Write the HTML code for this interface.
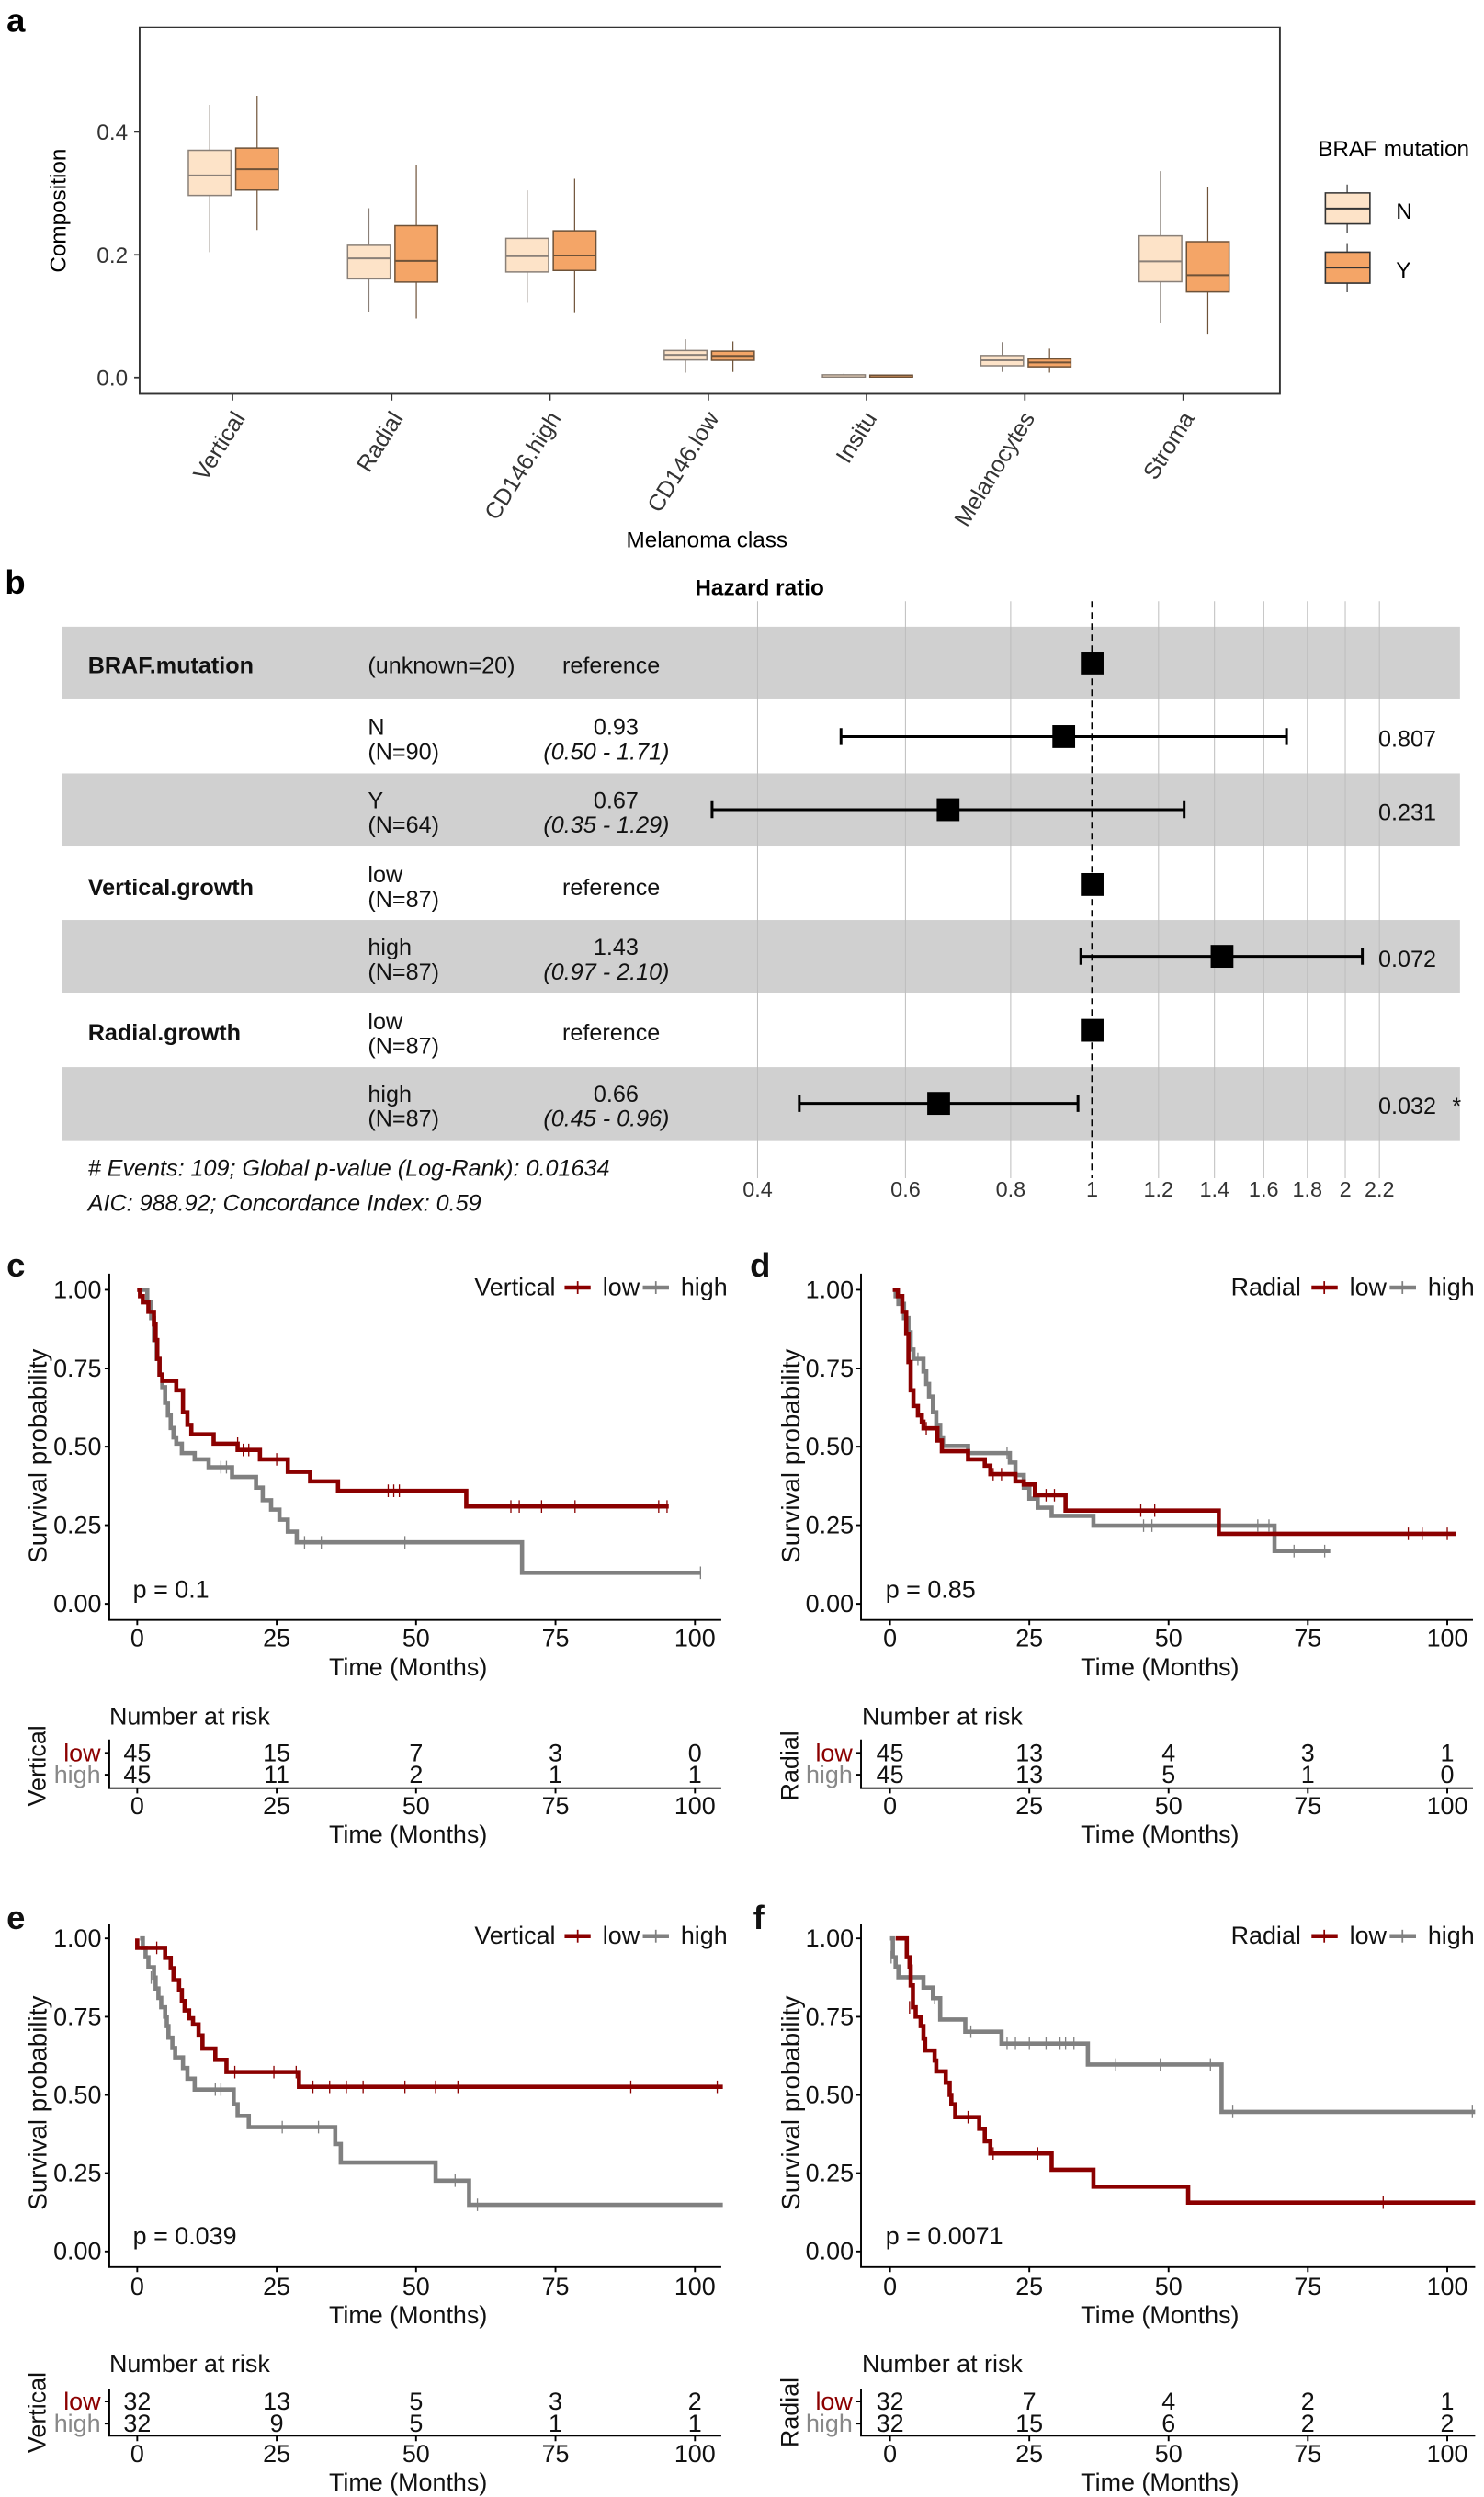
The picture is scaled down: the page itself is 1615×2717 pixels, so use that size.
<!DOCTYPE html>
<html><head><meta charset="utf-8"><style>
html,body{margin:0;padding:0;background:#fff;}
svg{display:block;font-family:"Liberation Sans",Arial,sans-serif;}
.ns{vector-effect:non-scaling-stroke;}
</style></head><body>
<svg width="1615" height="2717" viewBox="0 0 930 1565" xmlns="http://www.w3.org/2000/svg">
<rect x="0" y="0" width="930" height="1565" fill="#fff"/>

<!-- ============ PANEL A ============ -->
<text x="4" y="20" font-size="21" font-weight="bold">a</text>
<rect x="87.4" y="17.1" width="714.8" height="229.7" fill="none" stroke="#333" stroke-width="1.1"/>
<g stroke="#333" stroke-width="1">
<line x1="84" y1="82.6" x2="87.4" y2="82.6"/><line x1="84" y1="159.7" x2="87.4" y2="159.7"/><line x1="84" y1="236.6" x2="87.4" y2="236.6"/>
<line x1="145.6" y1="246.8" x2="145.6" y2="251"/><line x1="245.4" y1="246.8" x2="245.4" y2="251"/><line x1="344.6" y1="246.8" x2="344.6" y2="251"/><line x1="443.9" y1="246.8" x2="443.9" y2="251"/><line x1="543.1" y1="246.8" x2="543.1" y2="251"/><line x1="642.3" y1="246.8" x2="642.3" y2="251"/><line x1="741.6" y1="246.8" x2="741.6" y2="251"/>
</g>
<g font-size="14" fill="#333" text-anchor="end">
<text x="80" y="87.5">0.4</text><text x="80" y="164.6">0.2</text><text x="80" y="241.5">0.0</text>
</g>
<text transform="translate(41,132) rotate(-90)" font-size="14" text-anchor="middle">Composition</text>
<text x="443" y="343" font-size="14" text-anchor="middle">Melanoma class</text>
<g font-size="14.5" fill="#333" text-anchor="end">
<text transform="translate(154,262) rotate(-58)">Vertical</text>
<text transform="translate(253,262) rotate(-58)">Radial</text>
<text transform="translate(352,262) rotate(-58)">CD146.high</text>
<text transform="translate(451,262) rotate(-58)">CD146.low</text>
<text transform="translate(550,262) rotate(-58)">Insitu</text>
<text transform="translate(649,262) rotate(-58)">Melanocytes</text>
<text transform="translate(749,262) rotate(-58)">Stroma</text>
</g>
<g transform="scale(0.5942,0.2281)">
<g class="ns" stroke="#8a8078" fill="#fde3c8">
<line class="ns" x1="221" y1="288" x2="221" y2="693" stroke-width="1.2"/><rect class="ns" x="198.5" y="413" width="45" height="124" stroke-width="1.5"/><line class="ns" x1="198.5" y1="482" x2="243.5" y2="482" stroke-width="2"/>
<line class="ns" x1="389" y1="572" x2="389" y2="857" stroke-width="1.2"/><rect class="ns" x="366.5" y="674" width="45" height="92" stroke-width="1.5"/><line class="ns" x1="366.5" y1="710" x2="411.5" y2="710" stroke-width="2"/>
<line class="ns" x1="556" y1="523" x2="556" y2="832" stroke-width="1.2"/><rect class="ns" x="533.5" y="655" width="45" height="92" stroke-width="1.5"/><line class="ns" x1="533.5" y1="704" x2="578.5" y2="704" stroke-width="2"/>
<line class="ns" x1="723" y1="932" x2="723" y2="1024" stroke-width="1.2"/><rect class="ns" x="700.5" y="963" width="45" height="26" stroke-width="1.5"/><line class="ns" x1="700.5" y1="975" x2="745.5" y2="975" stroke-width="2"/>
<line class="ns" x1="890" y1="1027" x2="890" y2="1036" stroke-width="1.2"/><rect class="ns" x="867.5" y="1030" width="45" height="6" stroke-width="1.5"/>
<line class="ns" x1="1057" y1="940" x2="1057" y2="1022" stroke-width="1.2"/><rect class="ns" x="1034.5" y="977" width="45" height="28" stroke-width="1.5"/><line class="ns" x1="1034.5" y1="990" x2="1079.5" y2="990" stroke-width="2"/>
<line class="ns" x1="1224" y1="470" x2="1224" y2="888" stroke-width="1.2"/><rect class="ns" x="1201.5" y="648" width="45" height="126" stroke-width="1.5"/><line class="ns" x1="1201.5" y1="718" x2="1246.5" y2="718" stroke-width="2"/>
</g>
<g stroke="#6e5238" fill="#f4a567">
<line class="ns" x1="271" y1="265" x2="271" y2="632" stroke-width="1.2"/><rect class="ns" x="248.5" y="407" width="45" height="115" stroke-width="1.5"/><line class="ns" x1="248.5" y1="465" x2="293.5" y2="465" stroke-width="2"/>
<line class="ns" x1="439" y1="452" x2="439" y2="875" stroke-width="1.2"/><rect class="ns" x="416.5" y="620" width="45" height="155" stroke-width="1.5"/><line class="ns" x1="416.5" y1="717" x2="461.5" y2="717" stroke-width="2"/>
<line class="ns" x1="606" y1="491" x2="606" y2="860" stroke-width="1.2"/><rect class="ns" x="583.5" y="634" width="45" height="109" stroke-width="1.5"/><line class="ns" x1="583.5" y1="702" x2="628.5" y2="702" stroke-width="2"/>
<line class="ns" x1="773" y1="938" x2="773" y2="1022" stroke-width="1.2"/><rect class="ns" x="750.5" y="965" width="45" height="25" stroke-width="1.5"/><line class="ns" x1="750.5" y1="978" x2="795.5" y2="978" stroke-width="2"/>
<line class="ns" x1="940" y1="1029" x2="940" y2="1036" stroke-width="1.2"/><rect class="ns" x="917.5" y="1031" width="45" height="5" stroke-width="1.5"/>
<line class="ns" x1="1107" y1="958" x2="1107" y2="1024" stroke-width="1.2"/><rect class="ns" x="1084.5" y="986" width="45" height="22" stroke-width="1.5"/><line class="ns" x1="1084.5" y1="996" x2="1129.5" y2="996" stroke-width="2"/>
<line class="ns" x1="1274" y1="513" x2="1274" y2="917" stroke-width="1.2"/><rect class="ns" x="1251.5" y="664" width="45" height="138" stroke-width="1.5"/><line class="ns" x1="1251.5" y1="756" x2="1296.5" y2="756" stroke-width="2"/>
</g>
<line class="ns" x1="1421" y1="507" x2="1421" y2="640" stroke="#333" stroke-width="1.2"/><rect class="ns" x="1398" y="530" width="47" height="85" fill="#fde3c8" stroke="#333" stroke-width="1.6"/><line class="ns" x1="1398" y1="573" x2="1445" y2="573" stroke="#333" stroke-width="2"/>
<line class="ns" x1="1421" y1="668" x2="1421" y2="803" stroke="#333" stroke-width="1.2"/><rect class="ns" x="1398" y="693" width="47" height="85" fill="#f4a567" stroke="#333" stroke-width="1.6"/><line class="ns" x1="1398" y1="735" x2="1445" y2="735" stroke="#333" stroke-width="2"/>
</g>
<text x="826" y="98" font-size="14">BRAF mutation</text>
<text x="875" y="137" font-size="14">N</text>
<text x="875" y="174" font-size="14">Y</text>

<!-- ============ PANEL B ============ -->
<text x="3" y="372" font-size="21" font-weight="bold">b</text>
<text x="476" y="373" font-size="14" font-weight="bold" text-anchor="middle">Hazard ratio</text>
<g transform="translate(0,357) scale(0.5942,0.2649)">
<g fill="#d0d0d0">
<rect x="65" y="135" width="1475" height="172"/><rect x="65" y="482" width="1475" height="173"/><rect x="65" y="829" width="1475" height="173"/><rect x="65" y="1177" width="1475" height="173"/>
</g>
<g stroke="#bdbdbd">
<line class="ns" x1="799" y1="75" x2="799" y2="1440" stroke-width="1"/><line class="ns" x1="955" y1="75" x2="955" y2="1440" stroke-width="1"/><line class="ns" x1="1066" y1="75" x2="1066" y2="1440" stroke-width="1"/><line class="ns" x1="1222" y1="75" x2="1222" y2="1440" stroke-width="1"/><line class="ns" x1="1281" y1="75" x2="1281" y2="1440" stroke-width="1"/><line class="ns" x1="1333" y1="75" x2="1333" y2="1440" stroke-width="1"/><line class="ns" x1="1379" y1="75" x2="1379" y2="1440" stroke-width="1"/><line class="ns" x1="1419" y1="75" x2="1419" y2="1440" stroke-width="1"/><line class="ns" x1="1455" y1="75" x2="1455" y2="1440" stroke-width="1"/>
</g>
<line class="ns" x1="1152" y1="75" x2="1152" y2="1440" stroke="#000" stroke-width="2.2" stroke-dasharray="7,5"/>
<g stroke="#000">
<path class="ns" d="M887,395 H1357 M887,375 V415 M1357,375 V415" stroke-width="3" fill="none"/>
<path class="ns" d="M751,568 H1249 M751,548 V588 M1249,548 V588" stroke-width="3" fill="none"/>
<path class="ns" d="M1140,915 H1437 M1140,895 V935 M1437,895 V935" stroke-width="3" fill="none"/>
<path class="ns" d="M843,1263 H1137 M843,1243 V1283 M1137,1243 V1283" stroke-width="3" fill="none"/>
</g>
<g fill="#000">
<rect x="1140" y="194" width="24" height="54"/><rect x="1110" y="368" width="24" height="54"/><rect x="988" y="541" width="24" height="54"/><rect x="1140" y="718" width="24" height="54"/><rect x="1277" y="888" width="24" height="54"/><rect x="1140" y="1063" width="24" height="54"/><rect x="978" y="1236" width="24" height="54"/>
</g>
</g>
<g font-size="14.5" fill="#111">
<text x="55" y="422" font-weight="bold">BRAF.mutation</text>
<text x="230.5" y="422">(unknown=20)</text>
<text x="383" y="422" text-anchor="middle">reference</text>
<text x="230.5" y="460.5">N</text><text x="230.5" y="476">(N=90)</text>
<text x="386" y="460.5" text-anchor="middle">0.93</text><text x="380" y="476" text-anchor="middle" font-style="italic">(0.50 - 1.71)</text>
<text x="882" y="468" text-anchor="middle">0.807</text>
<text x="230.5" y="506.5">Y</text><text x="230.5" y="522">(N=64)</text>
<text x="386" y="506.5" text-anchor="middle">0.67</text><text x="380" y="522" text-anchor="middle" font-style="italic">(0.35 - 1.29)</text>
<text x="882" y="514" text-anchor="middle">0.231</text>
<text x="55" y="561" font-weight="bold">Vertical.growth</text>
<text x="230.5" y="553">low</text><text x="230.5" y="568.5">(N=87)</text>
<text x="383" y="561" text-anchor="middle">reference</text>
<text x="230.5" y="598.5">high</text><text x="230.5" y="614">(N=87)</text>
<text x="386" y="598.5" text-anchor="middle">1.43</text><text x="380" y="614" text-anchor="middle" font-style="italic">(0.97 - 2.10)</text>
<text x="882" y="606" text-anchor="middle">0.072</text>
<text x="55" y="652" font-weight="bold">Radial.growth</text>
<text x="230.5" y="645">low</text><text x="230.5" y="660.5">(N=87)</text>
<text x="383" y="652" text-anchor="middle">reference</text>
<text x="230.5" y="690.5">high</text><text x="230.5" y="706">(N=87)</text>
<text x="386" y="690.5" text-anchor="middle">0.66</text><text x="380" y="706" text-anchor="middle" font-style="italic">(0.45 - 0.96)</text>
<text x="882" y="698" text-anchor="middle">0.032</text><text x="913" y="698" text-anchor="middle">*</text>
<text x="55" y="737" font-style="italic">#  Events: 109; Global p-value (Log-Rank): 0.01634</text>
<text x="55" y="759" font-style="italic">AIC: 988.92; Concordance Index: 0.59</text>
</g>
<g font-size="13.5" fill="#333" text-anchor="middle">
<text x="474.8" y="750">0.4</text><text x="567.5" y="750">0.6</text><text x="633.4" y="750">0.8</text><text x="684.5" y="750">1</text><text x="726.1" y="750">1.2</text><text x="761.2" y="750">1.4</text><text x="792" y="750">1.6</text><text x="819.4" y="750">1.8</text><text x="843.2" y="750">2</text><text x="864.6" y="750">2.2</text>
</g>

<g fill="#111">
<text x="4" y="800" font-size="21" font-weight="bold">c</text>
<text x="470" y="800" font-size="21" font-weight="bold">d</text>
<text x="4" y="1209" font-size="21" font-weight="bold">e</text>
<text x="472" y="1209" font-size="21" font-weight="bold">f</text>
</g>

<!-- ===== PANEL C ===== -->
<g stroke="#000" stroke-width="1.1" fill="none">
<path d="M68.4,798.3 V1015.3 H452"/>
<path d="M65.5,808.4 H68.4 M65.5,857.7 H68.4 M65.5,906.7 H68.4 M65.5,955.9 H68.4 M65.5,1005.2 H68.4"/>
<path d="M85.9,1015.3 V1018.5 M173.3,1015.3 V1018.5 M260.7,1015.3 V1018.5 M348.1,1015.3 V1018.5 M435.5,1015.3 V1018.5"/>
<path d="M68.4,1090.2 V1120.7 H452"/>
<path d="M65.5,1098.6 H68.4 M65.5,1112.3 H68.4"/>
<path d="M85.9,1120.7 V1124 M173.3,1120.7 V1124 M260.7,1120.7 V1124 M348.1,1120.7 V1124 M435.5,1120.7 V1124"/>
</g>
<g font-size="15.5" fill="#111">
<g text-anchor="end"><text x="63.5" y="813.5">1.00</text><text x="63.5" y="862.8">0.75</text><text x="63.5" y="911.8">0.50</text><text x="63.5" y="961">0.25</text><text x="63.5" y="1010.3">0.00</text></g>
<g text-anchor="middle"><text x="85.9" y="1032">0</text><text x="173.3" y="1032">25</text><text x="260.7" y="1032">50</text><text x="348.1" y="1032">75</text><text x="435.5" y="1032">100</text>
<text x="255.7" y="1050">Time (Months)</text></g>
<text transform="translate(29,912.5) rotate(-90)" text-anchor="middle" font-size="16">Survival probability</text>
<text x="83.2" y="1001.5">p = 0.1</text>
<text x="297.3" y="812">Vertical</text><text x="377.6" y="812">low</text><text x="426.6" y="812">high</text>
<text x="68.4" y="1081">Number at risk</text>
<text x="63" y="1104" text-anchor="end" fill="#8b0000">low</text><text x="63" y="1117.5" text-anchor="end" fill="#888">high</text>
<text transform="translate(28.5,1106.7) rotate(-90)" text-anchor="middle">Vertical</text>
<g text-anchor="middle"><text x="85.9" y="1104">45</text><text x="173.3" y="1104">15</text><text x="260.7" y="1104">7</text><text x="348.1" y="1104">3</text><text x="435.5" y="1104">0</text>
<text x="85.9" y="1117.5">45</text><text x="173.3" y="1117.5">11</text><text x="260.7" y="1117.5">2</text><text x="348.1" y="1117.5">1</text><text x="435.5" y="1117.5">1</text>
<text x="85.9" y="1137">0</text><text x="173.3" y="1137">25</text><text x="260.7" y="1137">50</text><text x="348.1" y="1137">75</text><text x="435.5" y="1137">100</text>
<text x="255.7" y="1155">Time (Months)</text></g>
</g>
<g stroke-width="2.6"><line x1="353.8" y1="807" x2="370.1" y2="807" stroke="#8b0000"/><line x1="362" y1="803" x2="362" y2="811" stroke="#8b0000" stroke-width="1"/><line x1="402.8" y1="807" x2="419.2" y2="807" stroke="#808080"/><line x1="411" y1="803" x2="411" y2="811" stroke="#808080" stroke-width="1"/></g>
<g transform="translate(85.9,1005.2) scale(3.496,-196.8)" fill="none">
<path class="ns" stroke="#808080" stroke-width="4.6" d="M0,1 H1.8 V0.96 H2.5 V0.91 H3 V0.84 H3.5 V0.78 H4 V0.73 H4.5 V0.69 H5 V0.64 H5.5 V0.60 H6 V0.56 H6.5 V0.53 H7 V0.51 H8 V0.48 H10.3 V0.46 H12.8 V0.435 H17 V0.404 H21.3 V0.37 H22.5 V0.33 H24 V0.30 H25.5 V0.268 H27 V0.23 H28.6 V0.196 H69 V0.099 H101"/>
<path class="ns" stroke="#8b0000" stroke-width="4.6" d="M0,1 H0.5 V0.98 H1 V0.96 H2 V0.93 H3 V0.89 H3.3 V0.84 H3.6 V0.78 H4 V0.73 H4.5 V0.71 H7 V0.68 H8.2 V0.61 H9 V0.57 H9.7 V0.54 H13.7 V0.51 H18 V0.49 H22 V0.46 H27 V0.42 H31 V0.39 H36 V0.36 H59 V0.31 H95.3"/>
<path class="ns" stroke="#8b0000" stroke-width="1.3" d="M18,0.49 V0.53 M19,0.47 V0.51 M20,0.47 V0.51 M25,0.44 V0.48 M45,0.34 V0.38 M46,0.34 V0.38 M47,0.34 V0.38 M67,0.29 V0.33 M68.5,0.29 V0.33 M72.5,0.29 V0.33 M78.5,0.29 V0.33 M93.5,0.29 V0.33 M95,0.29 V0.33"/>
<path class="ns" stroke="#808080" stroke-width="1.3" d="M15,0.415 V0.455 M16,0.415 V0.455 M30,0.176 V0.216 M33,0.176 V0.216 M48,0.176 V0.216 M101,0.079 V0.119"/>
</g>

<!-- ===== PANEL D ===== -->
<g stroke="#000" stroke-width="1.1" fill="none">
<path d="M539.6,798.3 V1015.3 H923.2"/>
<path d="M536.7,808.4 H539.6 M536.7,857.7 H539.6 M536.7,906.7 H539.6 M536.7,955.9 H539.6 M536.7,1005.2 H539.6"/>
<path d="M557.8,1015.3 V1018.5 M645.1,1015.3 V1018.5 M732.4,1015.3 V1018.5 M819.7,1015.3 V1018.5 M907.1,1015.3 V1018.5"/>
<path d="M539.6,1090.2 V1120.7 H923.2"/>
<path d="M536.7,1098.6 H539.6 M536.7,1112.3 H539.6"/>
<path d="M557.8,1120.7 V1124 M645.1,1120.7 V1124 M732.4,1120.7 V1124 M819.7,1120.7 V1124 M907.1,1120.7 V1124"/>
</g>
<g font-size="15.5" fill="#111">
<g text-anchor="end"><text x="535" y="813.5">1.00</text><text x="535" y="862.8">0.75</text><text x="535" y="911.8">0.50</text><text x="535" y="961">0.25</text><text x="535" y="1010.3">0.00</text></g>
<g text-anchor="middle"><text x="557.8" y="1032">0</text><text x="645.1" y="1032">25</text><text x="732.4" y="1032">50</text><text x="819.7" y="1032">75</text><text x="907.1" y="1032">100</text>
<text x="727" y="1050">Time (Months)</text></g>
<text transform="translate(501,912.5) rotate(-90)" text-anchor="middle" font-size="16">Survival probability</text>
<text x="555" y="1001.5">p = 0.85</text>
<text x="771.5" y="812">Radial</text><text x="845.8" y="812">low</text><text x="894.9" y="812">high</text>
<text x="540.2" y="1081">Number at risk</text>
<text x="534.3" y="1104" text-anchor="end" fill="#8b0000">low</text><text x="534.3" y="1117.5" text-anchor="end" fill="#888">high</text>
<text transform="translate(500,1106.7) rotate(-90)" text-anchor="middle">Radial</text>
<g text-anchor="middle"><text x="557.8" y="1104">45</text><text x="645.1" y="1104">13</text><text x="732.4" y="1104">4</text><text x="819.7" y="1104">3</text><text x="907.1" y="1104">1</text>
<text x="557.8" y="1117.5">45</text><text x="645.1" y="1117.5">13</text><text x="732.4" y="1117.5">5</text><text x="819.7" y="1117.5">1</text><text x="907.1" y="1117.5">0</text>
<text x="557.8" y="1137">0</text><text x="645.1" y="1137">25</text><text x="732.4" y="1137">50</text><text x="819.7" y="1137">75</text><text x="907.1" y="1137">100</text>
<text x="727" y="1155">Time (Months)</text></g>
</g>
<g stroke-width="2.6"><line x1="822" y1="807" x2="838.4" y2="807" stroke="#8b0000"/><line x1="830" y1="803" x2="830" y2="811" stroke="#8b0000" stroke-width="1"/><line x1="871" y1="807" x2="887.5" y2="807" stroke="#808080"/><line x1="879" y1="803" x2="879" y2="811" stroke="#808080" stroke-width="1"/></g>
<g transform="translate(557.8,1005.2) scale(3.493,-196.8)" fill="none">
<path class="ns" stroke="#808080" stroke-width="4.6" d="M0.5,1 H1 V0.98 H1.5 V0.955 H2.5 V0.91 H3.3 V0.865 H3.7 V0.81 H4.2 V0.78 H6 V0.74 H6.5 V0.70 H7 V0.66 H7.7 V0.61 H8.3 V0.57 H9 V0.53 H9.5 V0.503 H14 V0.48 H21.5 V0.45 H22.5 V0.41 H24 V0.37 H25 V0.335 H26.5 V0.306 H29 V0.28 H36.5 V0.249 H69 V0.168 H79"/>
<path class="ns" stroke="#8b0000" stroke-width="4.6" d="M0.5,1 H1.4 V0.98 H2.2 V0.93 H2.9 V0.86 H3.3 V0.77 H3.7 V0.68 H4.2 V0.63 H5 V0.60 H5.7 V0.58 H6 V0.559 H8.5 V0.52 H9.3 V0.486 H14 V0.46 H17 V0.44 H18 V0.413 H22.5 V0.39 H24 V0.38 H26 V0.346 H31.5 V0.297 H59 V0.223 H101.5"/>
<path class="ns" stroke="#8b0000" stroke-width="1.3" d="M6.5,0.539 V0.579 M18.5,0.393 V0.433 M20,0.393 V0.433 M28,0.326 V0.366 M29.5,0.326 V0.366 M45,0.277 V0.317 M47.5,0.277 V0.317 M93,0.203 V0.243 M95.5,0.203 V0.243 M100,0.203 V0.243"/>
<path class="ns" stroke="#808080" stroke-width="1.3" d="M5,0.76 V0.80 M21,0.46 V0.50 M45.5,0.229 V0.269 M47,0.229 V0.269 M66,0.229 V0.269 M68,0.229 V0.269 M72.5,0.148 V0.188 M78,0.148 V0.188"/>
</g>

<!-- ===== PANEL E ===== -->
<g stroke="#000" stroke-width="1.1" fill="none">
<path d="M68.4,1205.6 V1420.9 H452"/>
<path d="M65.5,1214.9 H68.4 M65.5,1264 H68.4 M65.5,1313 H68.4 M65.5,1362 H68.4 M65.5,1411.1 H68.4"/>
<path d="M85.9,1420.9 V1424 M173.3,1420.9 V1424 M260.7,1420.9 V1424 M348.1,1420.9 V1424 M435.5,1420.9 V1424"/>
<path d="M68.4,1497 V1526.6 H452"/>
<path d="M65.5,1505.1 H68.4 M65.5,1519 H68.4"/>
<path d="M85.9,1526.6 V1530 M173.3,1526.6 V1530 M260.7,1526.6 V1530 M348.1,1526.6 V1530 M435.5,1526.6 V1530"/>
</g>
<g font-size="15.5" fill="#111">
<g text-anchor="end"><text x="63.5" y="1220">1.00</text><text x="63.5" y="1269.1">0.75</text><text x="63.5" y="1318.1">0.50</text><text x="63.5" y="1367.1">0.25</text><text x="63.5" y="1416.2">0.00</text></g>
<g text-anchor="middle"><text x="85.9" y="1438.3">0</text><text x="173.3" y="1438.3">25</text><text x="260.7" y="1438.3">50</text><text x="348.1" y="1438.3">75</text><text x="435.5" y="1438.3">100</text>
<text x="255.7" y="1456">Time (Months)</text></g>
<text transform="translate(29,1318) rotate(-90)" text-anchor="middle" font-size="16">Survival probability</text>
<text x="83.2" y="1406.7">p = 0.039</text>
<text x="297.3" y="1218.3">Vertical</text><text x="377.6" y="1218.3">low</text><text x="426.6" y="1218.3">high</text>
<text x="68.4" y="1486.8">Number at risk</text>
<text x="63" y="1510.3" text-anchor="end" fill="#8b0000">low</text><text x="63" y="1524.2" text-anchor="end" fill="#888">high</text>
<text transform="translate(28.5,1512) rotate(-90)" text-anchor="middle">Vertical</text>
<g text-anchor="middle"><text x="85.9" y="1510.3">32</text><text x="173.3" y="1510.3">13</text><text x="260.7" y="1510.3">5</text><text x="348.1" y="1510.3">3</text><text x="435.5" y="1510.3">2</text>
<text x="85.9" y="1524.2">32</text><text x="173.3" y="1524.2">9</text><text x="260.7" y="1524.2">5</text><text x="348.1" y="1524.2">1</text><text x="435.5" y="1524.2">1</text>
<text x="85.9" y="1543.2">0</text><text x="173.3" y="1543.2">25</text><text x="260.7" y="1543.2">50</text><text x="348.1" y="1543.2">75</text><text x="435.5" y="1543.2">100</text>
<text x="255.7" y="1561">Time (Months)</text></g>
</g>
<g stroke-width="2.6"><line x1="353.8" y1="1213.5" x2="370.1" y2="1213.5" stroke="#8b0000"/><line x1="362" y1="1209.5" x2="362" y2="1217.5" stroke="#8b0000" stroke-width="1"/><line x1="402.8" y1="1213.5" x2="419.2" y2="1213.5" stroke="#808080"/><line x1="411" y1="1209.5" x2="411" y2="1217.5" stroke="#808080" stroke-width="1"/></g>
<g transform="translate(85.9,1411.1) scale(3.496,-196.2)" fill="none">
<path class="ns" stroke="#808080" stroke-width="4.6" d="M0.5,1 H1 V0.97 H1.5 V0.94 H2 V0.908 H3 V0.875 H3.3 V0.84 H3.8 V0.81 H4.3 V0.78 H5 V0.75 H5.3 V0.72 H5.6 V0.683 H6.3 V0.65 H6.8 V0.62 H8.2 V0.586 H9 V0.552 H10.3 V0.517 H17.3 V0.47 H18 V0.433 H20 V0.397 H35.5 V0.343 H36.5 V0.284 H53.5 V0.226 H59.5 V0.149 H105"/>
<path class="ns" stroke="#8b0000" stroke-width="4.6" d="M0,1 V0.97 H5 V0.938 H6 V0.905 H6.5 V0.867 H7.5 V0.835 H8 V0.80 H8.5 V0.77 H9.3 V0.745 H10 V0.725 H11 V0.69 H11.7 V0.648 H14 V0.612 H16 V0.573 H29 V0.526 H105"/>
<path class="ns" stroke="#8b0000" stroke-width="1.3" d="M3.5,0.95 V0.99 M17.5,0.553 V0.593 M24.5,0.553 V0.593 M28.5,0.553 V0.593 M31.5,0.506 V0.546 M34.5,0.506 V0.546 M37.5,0.506 V0.546 M40.5,0.506 V0.546 M48,0.506 V0.546 M53.5,0.506 V0.546 M57.5,0.506 V0.546 M88.5,0.506 V0.546 M104,0.506 V0.546"/>
<path class="ns" stroke="#808080" stroke-width="1.3" d="M2.5,0.855 V0.895 M14,0.497 V0.537 M15,0.497 V0.537 M26,0.377 V0.417 M32.5,0.377 V0.417 M57,0.206 V0.246 M61,0.129 V0.169"/>
</g>

<!-- ===== PANEL F ===== -->
<g stroke="#000" stroke-width="1.1" fill="none">
<path d="M539.6,1205.6 V1420.9 H924.6"/>
<path d="M536.7,1214.9 H539.6 M536.7,1264 H539.6 M536.7,1313 H539.6 M536.7,1362 H539.6 M536.7,1411.1 H539.6"/>
<path d="M557.8,1420.9 V1424 M645.1,1420.9 V1424 M732.4,1420.9 V1424 M819.7,1420.9 V1424 M907.1,1420.9 V1424"/>
<path d="M539.6,1497 V1526.6 H924.6"/>
<path d="M536.7,1505.1 H539.6 M536.7,1519 H539.6"/>
<path d="M557.8,1526.6 V1530 M645.1,1526.6 V1530 M732.4,1526.6 V1530 M819.7,1526.6 V1530 M907.1,1526.6 V1530"/>
</g>
<g font-size="15.5" fill="#111">
<g text-anchor="end"><text x="535" y="1220">1.00</text><text x="535" y="1269.1">0.75</text><text x="535" y="1318.1">0.50</text><text x="535" y="1367.1">0.25</text><text x="535" y="1416.2">0.00</text></g>
<g text-anchor="middle"><text x="557.8" y="1438.3">0</text><text x="645.1" y="1438.3">25</text><text x="732.4" y="1438.3">50</text><text x="819.7" y="1438.3">75</text><text x="907.1" y="1438.3">100</text>
<text x="727" y="1456">Time (Months)</text></g>
<text transform="translate(501,1318) rotate(-90)" text-anchor="middle" font-size="16">Survival probability</text>
<text x="555" y="1406.7">p = 0.0071</text>
<text x="771.5" y="1218.3">Radial</text><text x="845.8" y="1218.3">low</text><text x="894.9" y="1218.3">high</text>
<text x="540.2" y="1486.8">Number at risk</text>
<text x="534.3" y="1510.3" text-anchor="end" fill="#8b0000">low</text><text x="534.3" y="1524.2" text-anchor="end" fill="#888">high</text>
<text transform="translate(500,1512) rotate(-90)" text-anchor="middle">Radial</text>
<g text-anchor="middle"><text x="557.8" y="1510.3">32</text><text x="645.1" y="1510.3">7</text><text x="732.4" y="1510.3">4</text><text x="819.7" y="1510.3">2</text><text x="907.1" y="1510.3">1</text>
<text x="557.8" y="1524.2">32</text><text x="645.1" y="1524.2">15</text><text x="732.4" y="1524.2">6</text><text x="819.7" y="1524.2">2</text><text x="907.1" y="1524.2">2</text>
<text x="557.8" y="1543.2">0</text><text x="645.1" y="1543.2">25</text><text x="732.4" y="1543.2">50</text><text x="819.7" y="1543.2">75</text><text x="907.1" y="1543.2">100</text>
<text x="727" y="1561">Time (Months)</text></g>
</g>
<g stroke-width="2.6"><line x1="822" y1="1213.5" x2="838.4" y2="1213.5" stroke="#8b0000"/><line x1="830" y1="1209.5" x2="830" y2="1217.5" stroke="#8b0000" stroke-width="1"/><line x1="871" y1="1213.5" x2="887.5" y2="1213.5" stroke="#808080"/><line x1="879" y1="1209.5" x2="879" y2="1217.5" stroke="#808080" stroke-width="1"/></g>
<g transform="translate(557.8,1411.1) scale(3.493,-196.2)" fill="none">
<path class="ns" stroke="#808080" stroke-width="4.6" d="M0,1 H0.5 V0.94 H1 V0.91 H1.5 V0.876 H6 V0.843 H7.7 V0.809 H9 V0.741 H13.5 V0.702 H20 V0.664 H35.5 V0.597 H59.5 V0.446 H105"/>
<path class="ns" stroke="#8b0000" stroke-width="4.6" d="M1,1 H3 V0.94 H3.5 V0.91 H3.7 V0.85 H4.1 V0.78 H4.6 V0.75 H5.5 V0.72 H6 V0.68 H6.3 V0.642 H8 V0.61 H8.3 V0.575 H10 V0.539 H10.7 V0.50 H11 V0.47 H11.7 V0.429 H16 V0.392 H17 V0.352 H18 V0.313 H29 V0.261 H36.5 V0.207 H53.5 V0.156 H105"/>
<path class="ns" stroke="#8b0000" stroke-width="1.3" d="M3.5,0.76 V0.80 M14,0.409 V0.449 M18.5,0.293 V0.333 M26.5,0.293 V0.333 M88.5,0.136 V0.176"/>
<path class="ns" stroke="#808080" stroke-width="1.3" d="M0.2,0.92 V0.96 M8,0.789 V0.829 M14.5,0.682 V0.722 M21,0.644 V0.684 M22.5,0.644 V0.684 M25,0.644 V0.684 M28,0.644 V0.684 M30.5,0.644 V0.684 M31.5,0.644 V0.684 M33,0.644 V0.684 M40.5,0.577 V0.617 M48.5,0.577 V0.617 M57.5,0.577 V0.617 M61.5,0.426 V0.466 M104.5,0.426 V0.466"/>
</g>
</svg>
</body></html>
